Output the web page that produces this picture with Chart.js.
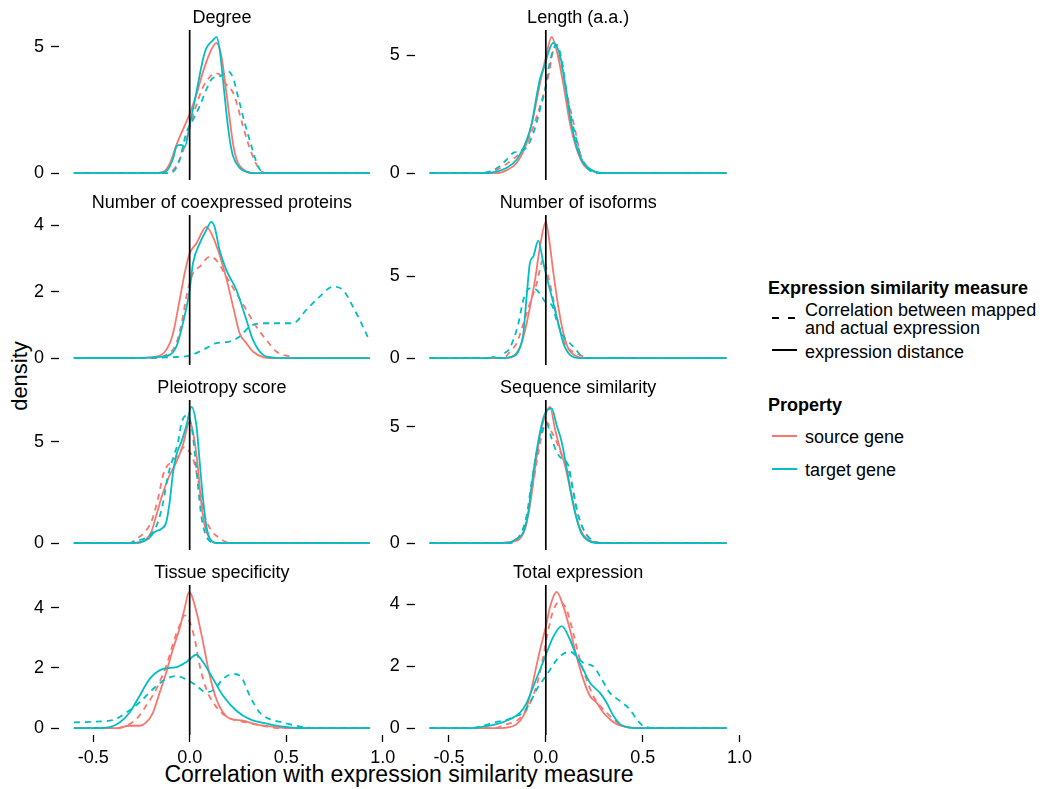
<!DOCTYPE html>
<html>
<head>
<meta charset="utf-8">
<script src="https://cdn.jsdelivr.net/npm/chart.js@4.4.0/dist/chart.umd.min.js"></script>
<style>
  body { margin: 0; background: #fff; font-family: "Liberation Sans", Arial, sans-serif; }
  #wrap { position: relative; width: 1045px; height: 789px; overflow: hidden; }
  canvas { position: absolute; }
  .txt { position: absolute; font-size: 18px; line-height: 18px; color: #000; white-space: nowrap; }
  .bold { font-weight: bold; }
  .key { position: absolute; height: 1.7px; }
</style>
</head>
<body>
<div id="wrap">
  <div class="txt" style="left:9px;top:365px;font-size:22px;line-height:22px;transform-origin:50% 50%;transform:translate(-27px,0) rotate(-90deg);width:76px;text-align:center;">density</div>
  <div class="txt" style="left:99px;top:763px;width:600px;text-align:center;font-size:23px;line-height:23px;">Correlation with expression similarity measure</div>

  <div class="txt bold" style="left:768px;top:279px;">Expression similarity measure</div>
  <div class="key" style="left:772px;top:317px;width:7px;background:#000;"></div>
  <div class="key" style="left:788px;top:317px;width:7px;background:#000;"></div>
  <div class="txt" style="left:805px;top:301px;">Correlation between mapped</div>
  <div class="txt" style="left:805px;top:319px;">and actual expression</div>
  <div class="key" style="left:772px;top:349px;width:25px;background:#000;"></div>
  <div class="txt" style="left:805px;top:342.5px;">expression distance</div>

  <div class="txt bold" style="left:768px;top:396px;">Property</div>
  <div class="key" style="left:772px;top:435px;width:25px;background:#F8766D;"></div>
  <div class="txt" style="left:805px;top:427.5px;">source gene</div>
  <div class="key" style="left:772px;top:468px;width:25px;background:#00BFC4;"></div>
  <div class="txt" style="left:805px;top:461px;">target gene</div>
</div>
<script>
// densities, [correlation, density]
const degreeSrcDist = [[-0.6,0],[-0.2,0],[-0.137,0.05],[-0.102,0.4],[-0.067,1.15],[-0.033,1.75],[0,2.35],[0.035,3.1],[0.069,4.0],[0.104,4.75],[0.139,5.15],[0.165,4.6],[0.19,3.2],[0.208,2.1],[0.226,1.1],[0.243,0.55],[0.26,0.28],[0.295,0.07],[0.33,0],[0.934,0]];
const degreeTgtDist = [[-0.6,0],[-0.16,0],[-0.12,0.08],[-0.085,0.6],[-0.067,1.07],[-0.045,1.12],[-0.025,1.05],[0,1.9],[0.035,3.2],[0.069,4.5],[0.087,4.95],[0.12,5.25],[0.139,5.39],[0.155,4.9],[0.174,3.6],[0.19,2.4],[0.208,1.3],[0.226,0.65],[0.26,0.2],[0.295,0.05],[0.33,0],[0.934,0]];
const degreeSrcCorr = [[-0.6,0],[-0.12,0],[-0.067,0.3],[-0.033,0.9],[0,1.8],[0.035,2.7],[0.069,3.4],[0.104,3.8],[0.13,3.95],[0.155,3.9],[0.19,3.5],[0.225,3.18],[0.25,2.6],[0.276,1.86],[0.32,0.8],[0.363,0.14],[0.4,0],[0.934,0]];
const degreeTgtCorr = [[-0.6,0],[-0.11,0],[-0.086,0.05],[-0.052,0.54],[-0.017,1.6],[0.017,2.1],[0.052,2.65],[0.086,3.3],[0.121,3.77],[0.147,3.8],[0.173,3.9],[0.199,4.03],[0.225,3.77],[0.25,3.04],[0.285,2.0],[0.32,1.07],[0.354,0.28],[0.38,0.04],[0.415,0],[0.934,0]];

const lengthSrcDist = [[-0.6,0],[-0.254,0],[-0.202,0.13],[-0.15,0.44],[-0.099,1.27],[-0.064,2.4],[-0.03,3.8],[0,4.9],[0.03,5.78],[0.056,5.2],[0.09,3.8],[0.125,2.1],[0.16,1.0],[0.194,0.37],[0.245,0.08],[0.297,0],[0.934,0]];
const lengthTgtDist = [[-0.6,0],[-0.34,0],[-0.271,0.04],[-0.202,0.23],[-0.15,0.58],[-0.099,1.4],[-0.073,2.1],[-0.047,3.3],[-0.03,4.0],[-0.013,4.4],[0.039,5.52],[0.073,5.0],[0.099,3.8],[0.125,2.4],[0.16,1.1],[0.194,0.44],[0.245,0.1],[0.314,0],[0.934,0]];
const lengthSrcCorr = [[-0.6,0],[-0.34,0],[-0.271,0.08],[-0.219,0.3],[-0.185,0.5],[-0.133,0.86],[-0.09,1.4],[-0.047,2.4],[-0.013,3.3],[0.013,4.1],[0.048,5.4],[0.082,4.5],[0.116,3.1],[0.151,1.85],[0.177,0.86],[0.211,0.3],[0.263,0.04],[0.314,0],[0.934,0]];
const lengthTgtCorr = [[-0.6,0],[-0.34,0],[-0.288,0.08],[-0.237,0.3],[-0.202,0.58],[-0.168,0.86],[-0.133,0.93],[-0.099,1.1],[-0.064,1.7],[-0.03,2.7],[0,3.7],[0.013,4.4],[0.056,5.45],[0.082,4.8],[0.108,3.4],[0.133,2.3],[0.168,1.1],[0.185,0.58],[0.211,0.23],[0.263,0],[0.934,0]];

const coexpSrcDist = [[-0.6,0],[-0.3,0.01],[-0.173,0.05],[-0.121,0.25],[-0.086,0.75],[-0.052,1.75],[-0.026,2.55],[0,3.15],[0.035,3.45],[0.086,3.95],[0.121,3.65],[0.155,3.1],[0.19,2.4],[0.225,1.55],[0.259,0.75],[0.294,0.45],[0.328,0.2],[0.38,0.03],[0.432,0],[0.934,0]];
const coexpTgtDist = [[-0.6,0],[-0.3,0.01],[-0.138,0.05],[-0.069,0.35],[-0.035,1.05],[0,2.05],[0.017,2.85],[0.052,3.45],[0.086,3.85],[0.112,4.1],[0.129,3.95],[0.155,3.25],[0.19,2.65],[0.242,2.05],[0.294,1.15],[0.328,0.55],[0.38,0.1],[0.432,0.02],[0.48,0],[0.934,0]];
const coexpSrcCorr = [[-0.6,0],[-0.2,0],[-0.121,0.1],[-0.069,0.45],[-0.035,1.25],[-0.017,1.85],[0.017,2.55],[0.052,2.75],[0.104,3.05],[0.138,2.95],[0.19,2.45],[0.242,1.95],[0.294,1.45],[0.345,0.95],[0.397,0.55],[0.449,0.2],[0.518,0.05],[0.57,0],[0.934,0]];
const coexpTgtCorr = [[-0.6,0],[-0.2,0.01],[-0.086,0.03],[0,0.08],[0.069,0.25],[0.138,0.45],[0.207,0.5],[0.259,0.65],[0.311,0.95],[0.38,1.05],[0.466,1.05],[0.535,1.05],[0.604,1.45],[0.674,1.85],[0.743,2.15],[0.794,2.05],[0.846,1.55],[0.898,0.95],[0.934,0.5]];

const isoSrcDist = [[-0.6,0],[-0.202,0],[-0.168,0.1],[-0.133,0.7],[-0.107,1.7],[-0.082,3.1],[-0.056,4.75],[-0.03,6.8],[0,8.3],[0.022,6.8],[0.039,5.2],[0.065,3.1],[0.091,1.5],[0.116,0.6],[0.151,0.16],[0.194,0],[0.934,0]];
const isoTgtDist = [[-0.6,0],[-0.29,0],[-0.27,0.08],[-0.25,0],[-0.176,0.1],[-0.142,0.4],[-0.116,1.5],[-0.099,3.75],[-0.082,5.8],[-0.064,6.2],[-0.039,7.15],[-0.013,5.8],[0.013,4.55],[0.039,3.35],[0.065,2.1],[0.091,0.9],[0.125,0.2],[0.177,0],[0.934,0]];
const isoSrcCorr = [[-0.6,0],[-0.219,0],[-0.185,0.4],[-0.151,0.9],[-0.116,2.1],[-0.082,3.35],[-0.047,4.55],[-0.013,6.0],[0.013,4.95],[0.039,3.55],[0.073,1.7],[0.108,0.7],[0.159,0.3],[0.194,0.1],[0.245,0],[0.934,0]];
const isoTgtCorr = [[-0.6,0],[-0.236,0],[-0.219,0.25],[-0.193,0.5],[-0.168,1.1],[-0.142,2.1],[-0.116,3.55],[-0.082,4.25],[-0.047,4.15],[-0.021,3.75],[0.004,3.35],[0.03,3.25],[0.056,2.3],[0.091,1.3],[0.125,0.9],[0.151,0.6],[0.177,0.2],[0.211,0],[0.934,0]];

const pleioSrcDist = [[-0.6,0],[-0.276,0],[-0.233,0.13],[-0.199,0.55],[-0.173,1.37],[-0.138,2.5],[-0.104,3.35],[-0.069,4.0],[-0.035,4.85],[0,6.0],[0.026,5.0],[0.043,3.7],[0.06,2.0],[0.078,0.87],[0.104,0.2],[0.138,0],[0.934,0]];
const pleioTgtDist = [[-0.6,0],[-0.311,0],[-0.259,0.05],[-0.216,0.2],[-0.181,0.55],[-0.147,0.7],[-0.121,1.05],[-0.104,2.0],[-0.086,3.5],[-0.069,4.35],[-0.043,5.0],[-0.017,5.8],[0.009,6.73],[0.035,5.8],[0.052,4.0],[0.069,2.2],[0.086,0.87],[0.112,0.13],[0.155,0],[0.934,0]];
const pleioSrcCorr = [[-0.6,0],[-0.311,0],[-0.276,0.2],[-0.233,0.55],[-0.199,1.05],[-0.164,2.2],[-0.138,3.35],[-0.121,3.75],[-0.095,4.0],[-0.06,4.35],[-0.026,4.75],[-0.009,4.6],[0.017,4.2],[0.035,3.5],[0.052,2.7],[0.078,1.37],[0.112,0.63],[0.147,0.3],[0.19,0.05],[0.225,0],[0.934,0]];
const pleioTgtCorr = [[-0.6,0],[-0.311,0],[-0.276,0.13],[-0.242,0.2],[-0.199,0.45],[-0.164,1.05],[-0.138,2.0],[-0.112,3.35],[-0.086,4.2],[-0.06,5.0],[-0.043,5.9],[-0.017,6.3],[0.009,5.8],[0.026,4.5],[0.043,2.85],[0.06,1.37],[0.078,0.55],[0.104,0.1],[0.138,0],[0.934,0]];

const seqSrcDist = [[-0.6,0],[-0.236,0],[-0.202,0.04],[-0.142,0.14],[-0.107,0.62],[-0.082,1.62],[-0.056,3.2],[-0.03,4.64],[0,5.57],[0.022,5.86],[0.047,4.93],[0.073,4.07],[0.099,3.35],[0.125,2.34],[0.151,1.34],[0.177,0.62],[0.211,0.19],[0.263,0.02],[0.315,0],[0.934,0]];
const seqTgtDist = [[-0.6,0],[-0.219,0],[-0.185,0.04],[-0.151,0.19],[-0.116,0.47],[-0.09,1.34],[-0.073,2.5],[-0.056,3.5],[-0.03,4.78],[0,5.65],[0.03,5.79],[0.056,5.07],[0.082,4.35],[0.108,3.2],[0.133,2.05],[0.159,1.05],[0.185,0.4],[0.22,0.11],[0.28,0],[0.934,0]];
const seqSrcCorr = [[-0.6,0],[-0.202,0],[-0.159,0.1],[-0.125,0.47],[-0.099,1.05],[-0.073,2.2],[-0.047,3.5],[-0.021,4.64],[0.004,5.2],[0.03,4.78],[0.056,4.35],[0.082,3.78],[0.108,3.35],[0.133,2.63],[0.159,1.48],[0.185,0.76],[0.22,0.26],[0.263,0.04],[0.314,0],[0.934,0]];
const seqTgtCorr = [[-0.6,0],[-0.202,0],[-0.159,0.1],[-0.125,0.47],[-0.099,1.19],[-0.073,2.63],[-0.047,3.92],[-0.021,4.78],[0.004,5.14],[0.03,4.5],[0.056,3.92],[0.082,3.63],[0.116,3.35],[0.142,2.2],[0.168,1.19],[0.202,0.47],[0.245,0.1],[0.297,0],[0.934,0]];

const tissueSrcDist = [[-0.6,0],[-0.38,0],[-0.311,0.08],[-0.259,0.08],[-0.225,0.19],[-0.19,0.52],[-0.155,1.19],[-0.121,1.86],[-0.086,2.64],[-0.052,3.31],[-0.026,3.98],[-0.003,4.53],[0.035,3.87],[0.069,2.86],[0.104,1.75],[0.138,0.97],[0.173,0.52],[0.207,0.32],[0.276,0.25],[0.345,0.13],[0.415,0.06],[0.484,0.01],[0.553,0],[0.934,0]];
const tissueTgtDist = [[-0.6,0],[-0.5,0.005],[-0.432,0.02],[-0.363,0.19],[-0.311,0.52],[-0.259,1.08],[-0.207,1.64],[-0.138,1.97],[-0.069,2.03],[-0.017,2.2],[0.035,2.44],[0.069,2.2],[0.121,1.64],[0.173,1.08],[0.242,0.58],[0.311,0.3],[0.415,0.13],[0.518,0.03],[0.587,0],[0.934,0]];
const tissueSrcCorr = [[-0.6,0],[-0.38,0],[-0.328,0.08],[-0.276,0.3],[-0.225,0.75],[-0.173,1.3],[-0.121,2.08],[-0.078,2.97],[-0.052,3.42],[-0.026,3.75],[0,3.53],[0.026,2.97],[0.052,2.08],[0.086,1.3],[0.121,0.86],[0.164,0.52],[0.207,0.33],[0.294,0.19],[0.38,0.08],[0.466,0],[0.934,0]];
const tissueTgtCorr = [[-0.6,0.19],[-0.484,0.22],[-0.397,0.27],[-0.328,0.52],[-0.259,0.86],[-0.19,1.3],[-0.121,1.64],[-0.069,1.73],[-0.017,1.62],[0.035,1.41],[0.086,1.19],[0.13,1.3],[0.173,1.64],[0.225,1.8],[0.268,1.69],[0.311,1.08],[0.363,0.52],[0.415,0.3],[0.484,0.19],[0.553,0.08],[0.622,0.01],[0.691,0],[0.934,0]];

const totalSrcDist = [[-0.6,0],[-0.271,0],[-0.202,0.02],[-0.151,0.13],[-0.116,0.4],[-0.082,1.04],[-0.056,1.79],[-0.03,2.53],[0,3.28],[0.022,3.93],[0.056,4.41],[0.091,3.93],[0.125,3.18],[0.159,2.32],[0.194,1.57],[0.228,1.04],[0.263,0.82],[0.297,0.5],[0.331,0.29],[0.366,0.13],[0.417,0.04],[0.486,0],[0.934,0]];
const totalTgtDist = [[-0.6,0],[-0.374,0],[-0.323,0.05],[-0.254,0.13],[-0.185,0.29],[-0.133,0.5],[-0.099,0.82],[-0.064,1.36],[-0.03,1.89],[0.004,2.43],[0.039,2.96],[0.082,3.3],[0.125,2.86],[0.159,2.32],[0.194,1.89],[0.228,1.47],[0.28,1.14],[0.314,0.82],[0.349,0.4],[0.383,0.13],[0.435,0.02],[0.486,0],[0.934,0]];
const totalSrcCorr = [[-0.6,0],[-0.271,0],[-0.202,0.13],[-0.151,0.24],[-0.108,0.5],[-0.073,0.93],[-0.039,1.57],[-0.013,2.32],[0.013,3.18],[0.039,3.82],[0.073,4.09],[0.108,3.82],[0.142,3.07],[0.176,2.21],[0.211,1.57],[0.245,1.04],[0.28,0.72],[0.331,0.4],[0.383,0.13],[0.452,0],[0.934,0]];
const totalTgtCorr = [[-0.6,0],[-0.392,0],[-0.34,0.05],[-0.271,0.18],[-0.202,0.27],[-0.151,0.4],[-0.116,0.5],[-0.082,0.82],[-0.047,1.25],[-0.013,1.57],[0.022,1.89],[0.056,2.21],[0.082,2.37],[0.125,2.48],[0.159,2.32],[0.194,2.11],[0.245,2.0],[0.28,1.68],[0.331,1.14],[0.383,0.88],[0.434,0.61],[0.469,0.29],[0.503,0.07],[0.538,0.02],[0.589,0],[0.934,0]];

const panelTitles = ["Degree", "Length (a.a.)", "Number of coexpressed proteins", "Number of isoforms",
  "Pleiotropy score", "Sequence similarity", "Tissue specificity", "Total expression"];
const xTicks = [-0.5, 0, 0.5, 1.0];
const yTicksByPanel = [[0, 5], [0, 5], [0, 2, 4], [0, 5], [0, 5], [0, 5], [0, 2, 4], [0, 2, 4]];
const vlineAt = 0;

// per panel: target distance, target correlation, source distance, source correlation
// (first dataset is painted last, so cyan ends up on top like in ggplot)
const panelSeries = [
  [degreeTgtDist, degreeTgtCorr, degreeSrcDist, degreeSrcCorr],
  [lengthTgtDist, lengthTgtCorr, lengthSrcDist, lengthSrcCorr],
  [coexpTgtDist, coexpTgtCorr, coexpSrcDist, coexpSrcCorr],
  [isoTgtDist, isoTgtCorr, isoSrcDist, isoSrcCorr],
  [pleioTgtDist, pleioTgtCorr, pleioSrcDist, pleioSrcCorr],
  [seqTgtDist, seqTgtCorr, seqSrcDist, seqSrcCorr],
  [tissueTgtDist, tissueTgtCorr, tissueSrcDist, tissueSrcCorr],
  [totalTgtDist, totalTgtCorr, totalSrcDist, totalSrcCorr]
];

const FONT = '"Liberation Sans", Arial, sans-serif';
const SRC = "#F8766D";
const TGT = "#00BFC4";
const seriesStyle = [
  { label: "target gene / expression distance", color: TGT, dash: [] },
  { label: "target gene / correlation", color: TGT, dash: [6, 5] },
  { label: "source gene / expression distance", color: SRC, dash: [] },
  { label: "source gene / correlation", color: SRC, dash: [6, 5] }
];

// black reference line at x = 0 over the whole panel height
const zeroLine = {
  id: "zeroLine",
  afterDatasetsDraw(chart) {
    const { ctx, chartArea, scales } = chart;
    const px = scales.x.getPixelForValue(vlineAt);
    ctx.save();
    ctx.strokeStyle = "#000";
    ctx.lineWidth = 1.7;
    ctx.beginPath();
    ctx.moveTo(px, chartArea.top);
    ctx.lineTo(px, chartArea.bottom);
    ctx.stroke();
    ctx.restore();
  }
};

function createPanel(i) {
  const col = i % 2, row = Math.floor(i / 2);
  const bottomRow = row === 3;
  const left = col === 0 ? 0 : 356;
  const areaLeft = col === 0 ? 59 : 414.7;
  const areaRight = col === 0 ? 384.8 : 741.6;
  const w = 410, h = bottomRow ? 215 : 180;

  const canvas = document.createElement("canvas");
  canvas.width = w;
  canvas.height = h;
  canvas.style.left = left + "px";
  canvas.style.top = (185 * row) + "px";
  document.getElementById("wrap").appendChild(canvas);

  const series = panelSeries[i];
  const maxY = Math.max(...series.map(s => Math.max(...s.map(p => p[1]))));

  const datasets = series.map((s, k) => ({
    label: seriesStyle[k].label,
    data: s.map(([x, y]) => ({ x, y })),
    borderColor: seriesStyle[k].color,
    borderDash: seriesStyle[k].dash,
    borderWidth: 1.8,
    pointRadius: 0,
    fill: false,
    cubicInterpolationMode: "monotone"
  }));

  const tickMarks = len => ({
    drawOnChartArea: false, drawTicks: true, tickLength: len,
    tickColor: "#000", tickWidth: 1.3, color: "#000"
  });

  new Chart(canvas, {
    type: "line",
    data: { datasets },
    plugins: [zeroLine],
    options: {
      responsive: false,
      animation: false,
      events: [],
      layout: { padding: { left: 0, top: 0, bottom: 0, right: left + w - areaRight } },
      plugins: {
        legend: { display: false },
        tooltip: { enabled: false },
        title: {
          display: true, text: panelTitles[i], fullSize: false, color: "#000",
          font: { family: FONT, size: 18, weight: "normal" },
          padding: { top: 7, bottom: 1.4 }
        }
      },
      scales: {
        x: {
          type: "linear", min: -0.677, max: 1.011, display: bottomRow,
          afterBuildTicks: s => { s.ticks = xTicks.map(v => ({ value: v })); },
          afterFit: s => { s.height = bottomRow ? 35 : 0; s.paddingLeft = 0; s.paddingRight = 0; },
          ticks: {
            color: "#000", font: { family: FONT, size: 18 }, padding: 5,
            maxRotation: 0, autoSkip: false, callback: v => Number(v).toFixed(1)
          },
          grid: tickMarks(7),
          border: { display: false }
        },
        y: {
          min: -0.05 * maxY, max: 1.05 * maxY,
          afterBuildTicks: s => { s.ticks = yTicksByPanel[i].map(v => ({ value: v })); },
          afterFit: s => { s.width = areaLeft - left; s.paddingTop = 0; s.paddingBottom = 0; },
          ticks: { color: "#000", font: { family: FONT, size: 18 }, padding: 7, autoSkip: false, callback: v => String(v) },
          grid: tickMarks(8),
          border: { display: false }
        }
      }
    }
  });
}

panelTitles.forEach((t, i) => createPanel(i));
</script>
</body>
</html>
